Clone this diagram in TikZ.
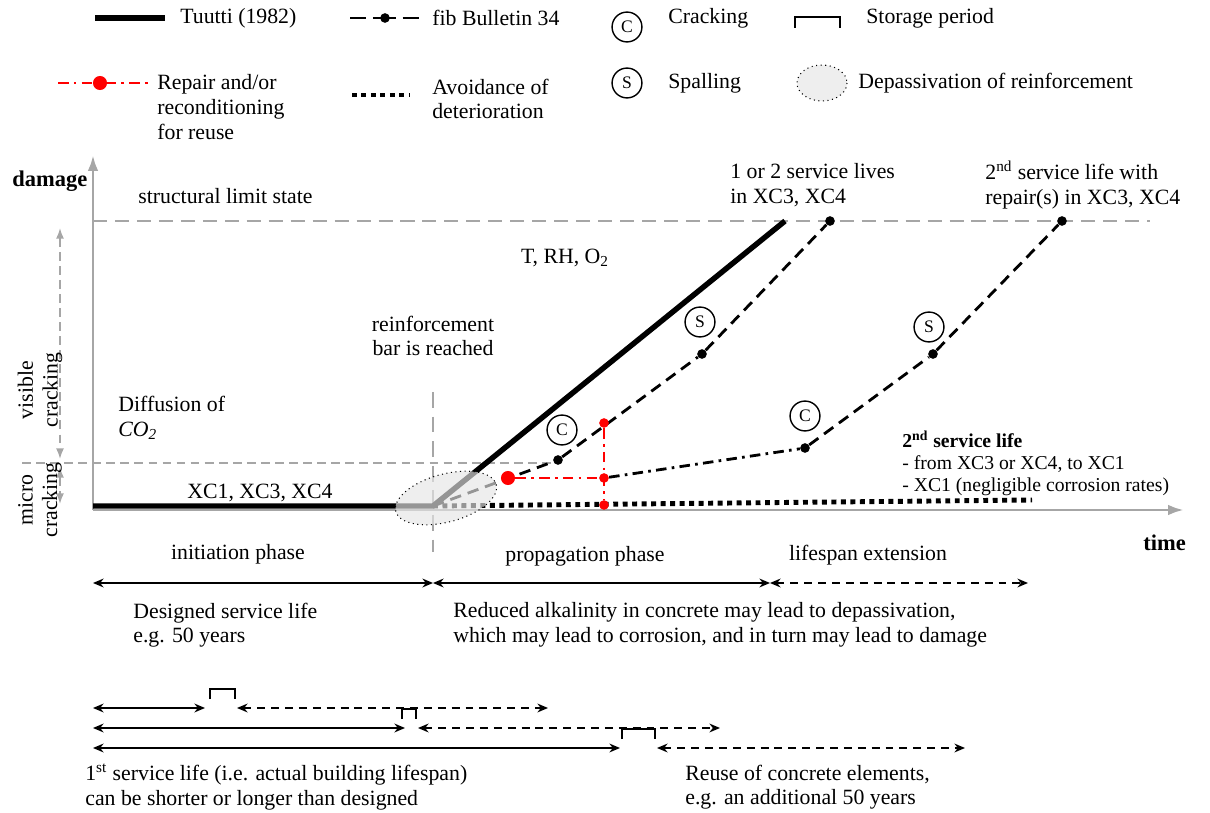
\documentclass[tikz,border=0pt]{standalone}
\usepackage{fontspec}
\setmainfont{Liberation Serif}
\usetikzlibrary{arrows.meta,positioning}

\begin{document}
\begin{tikzpicture}[x=0.02cm,y=-0.02cm,
 lbl/.style={font=\fontsize{12.4}{14}\selectfont,inner sep=0pt,align=left},
 axis/.style={gray!70,line width=1.7pt,-{Latex[length=9pt,width=6pt]}},
 limit/.style={gray!70,line width=1.7pt,dash pattern=on 8pt off 4.5pt},
 guide/.style={gray!70,line width=0.9pt,dash pattern=on 5pt off 3pt},
 tuutti/.style={line width=3.1pt},
 fib/.style={line width=1.6pt,dash pattern=on 6.5pt off 4pt},
 dashdot/.style={line width=1.6pt,dash pattern=on 6pt off 3pt on 1.5pt off 3pt},
 repair/.style={dashdot,red},
 avoid/.style={line width=2.8pt,dash pattern=on 2.8pt off 2.6pt},
 stage/.style={circle,draw,line width=0.8pt,inner sep=0pt,minimum size=17pt,font=\fontsize{10}{10}\selectfont},
 dot/.style={circle,fill,inner sep=0pt,minimum size=5.5pt},
 rdot/.style={dot,red},
 depass/.style={draw,dotted,fill=gray!20,fill opacity=0.65,line width=0.6pt},
 span/.style={line width=1.3pt,{Stealth[length=6pt,width=5pt]}-{Stealth[length=6pt,width=5pt]}},
 spanx/.style={span,dash pattern=on 4.5pt off 3.4pt},
 store/.style={line width=1.3pt},
]
\useasboundingbox (0,0) rectangle (1210,813);

%legend
\draw[tuutti] (95,18) -- (165,18);
\node[lbl,anchor=west] (lgT) at (180,18) {Tuutti (1982)};
\draw[fib,dash pattern=on 9pt off 4pt on 13pt off 4pt on 9pt] (350,18) -- (420,18);
\node[dot] at (385,18) {};
\node[lbl,anchor=west] (lgF) at (432,18) {fib Bulletin 34};
\node[stage] (lgC) at (627,27) {C};
\node[lbl,anchor=west] at (668,18) {Cracking};
\draw[store] (795,28) |- (840,17) -- (840,28);
\node[lbl,anchor=west] (lgS) at (866,18) {Storage period};
\draw[repair] (58,83) -- (148,83);
\node[dot,red,minimum size=8pt] at (100,83) {};
\node[lbl,anchor=west] (lgR) at (157,107) {Repair and/or\\reconditioning\\for reuse};
\draw[avoid] (352,95) -- (410,95);
\node[lbl,anchor=west] (lgA) at (432,99) {Avoidance of\\deterioration};
\node[stage] (lgSp) at (627,83) {S};
\node[lbl,anchor=west] at (668,83) {Spalling};
\draw[depass] (822,83) ellipse [x radius=25,y radius=18];
\node[lbl,anchor=west] (lgD) at (858,83) {Depassivation of reinforcement};

%axes and levels
\coordinate (O) at (93,510);
\coordinate (Y) at (93,155);
\coordinate (X) at (1184,510);
\coordinate (o) at (433,506);
\draw[limit] (93,221) -- (1150,221);
\draw[guide] (22,463) -- (555,463);
\draw[gray!70,line width=1.3pt,dash pattern=on 9pt off 5pt] (433,392) -- (433,552);
\draw[axis] (O) -- (Y);
\draw[axis] (O) -- (X);
\draw[guide,{Latex[length=6pt,width=4.5pt]}-{Latex[length=6pt,width=4.5pt]}] (60,228) -- (60,459);
\draw[guide,{Latex[length=6pt,width=4.5pt]}-{Latex[length=6pt,width=4.5pt]}] (60,467) -- (60,504);
\node[lbl,rotate=90,align=center] (vis) at (40,390) {visible\\cracking};
\node[lbl,rotate=90,align=center] (mic) at (40,500) {micro\\cracking};
\node[lbl,anchor=west,font=\fontsize{12.8}{14}\selectfont\bfseries] (dam) at (12,181) {damage};
\node[lbl,anchor=west,font=\fontsize{12.8}{14}\selectfont\bfseries] (tim) at (1143,543) {time};

%labels in the chart
\node[lbl,anchor=west] (sls) at (138,196) {structural limit state};
\node[lbl,align=center] (bar) at (433,336) {reinforcement\\bar is reached};
\node[lbl,anchor=west] (dif) at (118,418) {Diffusion of\\\textit{CO\textsubscript{2}}};
\node[lbl] (xc) at (260,493) {XC1, XC3, XC4};
\node[lbl] (env) at (565,258) {T, RH, O\textsubscript{2}};
\node[lbl,anchor=west] (one) at (730,185) {1 or 2 service lives\\in XC3, XC4};
\node[lbl,anchor=west] (two) at (985,185) {2\textsuperscript{nd} service life with\\repair(s) in XC3, XC4};
\node[lbl,anchor=west,font=\fontsize{11.2}{12.6}\selectfont] (sec) at (902,463)
 {\textbf{2\textsuperscript{nd} service life}\\- from XC3 or XC4, to XC1\\- XC1 (negligible corrosion rates)};

%curves
\draw[avoid] (o) -- (1032,500);
\draw[tuutti] (93,506) -- (o) -- (785,221);
\node[dot] (f1) at (558,460) {};
\node[dot] (f2) at (702,354) {};
\node[dot] (f3) at (830,221) {};
\draw[fib] (o) -- (f1) -- (f2) -- (f3);
\node[dot,red,minimum size=8pt] (r0) at (508,478) {};
\node[rdot] (r1) at (604,478) {};
\node[rdot] (r2) at (604,423) {};
\node[rdot] (r3) at (604,505) {};
\draw[repair] (r0) -- (r1);
\draw[repair] (r2) -- (r3);
\node[dot] (g1) at (805,448) {};
\node[dot] (g2) at (933,354) {};
\node[dot] (g3) at (1062,221) {};
\draw[dashdot] (r1) -- (g1);
\draw[fib] (g1) -- (g2) -- (g3);
\node[stage] (c1) at (562,430) {C};
\node[stage] (s1) at (700,322) {S};
\node[stage] (c2) at (805,416) {C};
\node[stage] (s2) at (929,327) {S};
\draw[depass,rotate around={15:(446,498)}] (446,498) ellipse [x radius=52,y radius=24];

%phases
\coordinate (p0) at (93,583);
\coordinate (p1) at (433,583);
\coordinate (p2) at (770,583);
\coordinate (p3) at (1028,583);
\draw[span] (p0) -- (p1);
\draw[span] (p1) -- (p2);
\draw[spanx] (p2) -- (p3);
\node[lbl] (ini) at (238,554) {initiation phase};
\node[lbl] (pro) at (585,556) {propagation phase};
\node[lbl] (ext) at (868,555) {lifespan extension};
\node[lbl,anchor=west] (des) at (133,625) {Designed service life\\e.g. 50 years};
\node[lbl,anchor=west] (red) at (453,625) {Reduced alkalinity in concrete may lead to depassivation,\\which may lead to corrosion, and in turn may lead to damage};

%service lives with storage
\foreach \i/\a/\b/\c/\d/\y in {1/205/210/235/548/708,2/405/402/416/720/728,3/620/622/655/965/748}{
 \coordinate (a\i) at (93,\y);
 \coordinate (b\i) at (\a,\y);
 \coordinate (c\i) at (\c+2,\y);
 \coordinate (d\i) at (\d,\y);
 \draw[span] (a\i) -- (b\i);
 \draw[store] (\b,\y-9) |- (\c,\y-19) -- (\c,\y-9);
 \draw[spanx] (c\i) -- (d\i);
}
\node[lbl,anchor=west] (fst) at (85,787) {1\textsuperscript{st} service life (i.e. actual building lifespan)\\can be shorter or longer than designed};
\node[lbl,anchor=west] (reu) at (685,787) {Reuse of concrete elements,\\e.g. an additional 50 years};

\end{tikzpicture}
\end{document}
